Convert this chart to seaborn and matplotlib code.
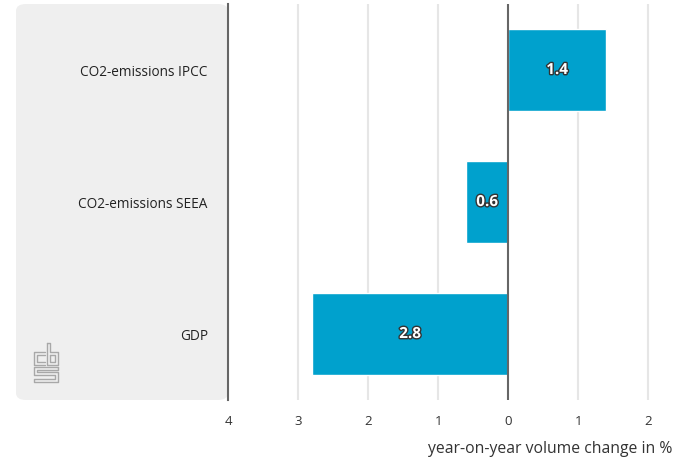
import matplotlib
matplotlib.use("Agg")
import matplotlib.pyplot as plt
import matplotlib.patheffects as pe
from matplotlib.patches import FancyBboxPatch
from matplotlib.lines import Line2D
import seaborn as sns
import pandas as pd

categories = ["CO2-emissions IPCC", "CO2-emissions SEEA", "GDP"]
values = [1.4, -0.6, -2.8]
xticks = [-4, -3, -2, -1, 0, 1, 2]
xtick_labels = ["4", "3", "2", "1", "0", "1", "2"]
xlabel = "year-on-year volume change in %"

sns.set_theme(style="white")
plt.rcParams['font.family'] = ['Open Sans', 'DejaVu Sans']

W, H = 679, 458
fig = plt.figure(figsize=(W / 100, H / 100), dpi=100)

# grey label panel
panel = FancyBboxPatch((16 / W, 1 - 400 / H), (228 - 16) / W, (400 - 4) / H,
                       boxstyle="round,pad=0,rounding_size=0.015",
                       transform=fig.transFigure, facecolor="#efefef",
                       edgecolor="none", zorder=-1)
fig.patches.append(panel)

ax = fig.add_axes([228 / W, 1 - 400 / H, (679 - 228) / W, 396 / H])
ax.set_facecolor("none")

df = pd.DataFrame({"category": categories, "value": values})
sns.barplot(data=df, x="value", y="category", orient="h", color="#00a1cd",
            saturation=1, width=0.62, ax=ax, zorder=3)

ax.set_xlim(-4, 2.44)
ax.set_ylim(2.5, -0.5)
ax.set_xticks(xticks)
ax.set_xticklabels(xtick_labels, fontsize=9.5, color="#333333", fontweight=500)
ax.tick_params(axis="x", length=0, pad=11)
ax.tick_params(axis="y", length=0, pad=14.5)
ax.set_yticks(range(len(categories)))
ax.set_yticklabels(categories, fontsize=9.8, color="#222222", fontweight=500)
ax.set_ylabel("")
ax.set_xlabel("")

for s in ["top", "right", "bottom"]:
    ax.spines[s].set_visible(False)
ax.spines["left"].set_color("#666666")
ax.spines["left"].set_linewidth(1.5)

for t in [-3, -2, -1, 1, 2]:
    ax.axvline(t, color="#e6e6e6", lw=1.5, zorder=1)
ax.axvline(0, color="#666666", lw=1.5, zorder=4)

for i, v in enumerate(values):
    ax.text(v / 2, i, f"{abs(v):.1f}", ha="center", va="center", color="white",
            fontsize=11, fontweight="bold", zorder=5,
            path_effects=[pe.withStroke(linewidth=2, foreground="#333333")])

fig.text(672 / W, 1 - 449 / H, xlabel, ha="right", va="center",
         fontsize=11.3, color="#333333")

# simplified cbs logo
def px(x, y):
    return x / W, 1 - y / H

lc = "#a8a8a8"
segs = [
    # c
    [(45, 352), (34, 352), (34, 365), (45, 365)],
    [(45, 355), (37, 355), (37, 362), (45, 362)],
    # b
    [(47, 343), (47, 365), (58, 365), (58, 352), (50, 352), (50, 343), (47, 343)],
    [(50, 355), (55, 355), (55, 362), (50, 362), (50, 355)],
    # s
    [(58, 367), (34, 367), (34, 375), (55, 375), (55, 379), (34, 379), (34, 382), (58, 382), (58, 372), (37, 372), (37, 370), (58, 370), (58, 367)],
]
for seg in segs:
    xs, ys = zip(*[px(a, b) for a, b in seg])
    fig.add_artist(Line2D(xs, ys, transform=fig.transFigure, color=lc, lw=1.0))

fig.savefig("out.png", dpi=100)
